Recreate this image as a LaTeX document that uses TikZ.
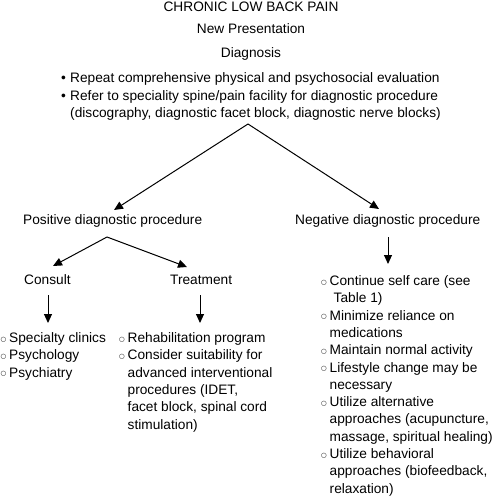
\documentclass[tikz,border=0pt]{standalone}
\usepackage{fontspec}
\setmainfont{Liberation Sans}
\newfontfamily\dejavu{DejaVu Sans}
\usetikzlibrary{arrows.meta}
\newcommand{\fb}{\makebox[9pt][l]{\textbullet}}
\newcommand{\ob}{\makebox[8.5pt][l]{\raisebox{1.3pt}{\dejavu\fontsize{6.5}{6.5}\selectfont ○}}}
\begin{document}
\begin{tikzpicture}[x=1pt,y=-1pt,
  lbl/.style={inner sep=0pt, font=\fontsize{13.7}{17.3}\selectfont},
  arr/.style={-{Triangle[length=9pt,width=8pt]}, line width=1pt}]
\useasboundingbox (0,0) rectangle (493,500);
\node[lbl,anchor=base] (title) at (251,11.5) {CHRONIC LOW BACK PAIN};
\node[lbl,anchor=base] (newp) at (251,34) {New Presentation};
\node[lbl,anchor=base] (diagn) at (251,57.5) {Diagnosis};
\node[lbl,anchor=base west] (diag) at (61,83) {\begin{tabular}[t]{@{}l@{}l@{}}
\fb & Repeat comprehensive physical and psychosocial evaluation\\
\fb & Refer to speciality spine/pain facility for diagnostic procedure\\
 & (discography, diagnostic facet block, diagnostic nerve blocks)
\end{tabular}};
\node[lbl,anchor=base west] (pos) at (23,224.5) {Positive diagnostic procedure};
\node[lbl,anchor=base west] (neg) at (295,224.5) {Negative diagnostic procedure};
\node[lbl,anchor=base west] (cons) at (24,284.5) {Consult};
\node[lbl,anchor=base west] (treat) at (170,284.5) {Treatment};
\node[lbl,anchor=base west] (conslist) at (0.5,342.5) {\begin{tabular}[t]{@{}l@{}l@{}}
\ob & Specialty clinics\\
\ob & Psychology\\
\ob & Psychiatry
\end{tabular}};
\node[lbl,anchor=base west] (treatlist) at (119,342.5) {\begin{tabular}[t]{@{}l@{}l@{}}
\ob & Rehabilitation program\\
\ob & Consider suitability for\\
 & advanced interventional\\
 & procedures (IDET,\\
 & facet block, spinal cord\\
 & stimulation)
\end{tabular}};
\node[lbl,anchor=base west] (neglist) at (321,285.5) {\begin{tabular}[t]{@{}l@{}l@{}}
\ob & Continue self care (see\\
 & \hspace{4pt}Table 1)\\
\ob & Minimize reliance on\\
 & medications\\
\ob & Maintain normal activity\\
\ob & Lifestyle change may be\\
 & necessary\\
\ob & Utilize alternative\\
 & approaches (acupuncture,\\
 & massage, spiritual healing)\\
\ob & Utilize behavioral\\
 & approaches (biofeedback,\\
 & relaxation)
\end{tabular}};
\coordinate (a1) at (248,124);
\coordinate (t1) at (114,210);
\coordinate (t2) at (379,209);
\coordinate (a2) at (107,237);
\coordinate (t3) at (53,266);
\coordinate (t4) at (187,267);
\coordinate (c1) at (48,295);
\coordinate (c1e) at (48,323);
\coordinate (c2) at (200,295);
\coordinate (c2e) at (200,323);
\coordinate (n1) at (388,237);
\coordinate (n1e) at (388,264);
\draw[arr] (a1) -- (t1);
\draw[arr] (a1) -- (t2);
\draw[arr] (a2) -- (t3);
\draw[arr] (a2) -- (t4);
\draw[arr] (c1) -- (c1e);
\draw[arr] (c2) -- (c2e);
\draw[arr] (n1) -- (n1e);
\end{tikzpicture}
\end{document}
